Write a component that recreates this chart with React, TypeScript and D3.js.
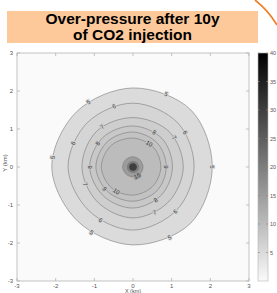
import * as d3 from "d3";

// contour levels (bar) and their radius (km) read at 8 headings: E, NE, N, NW, W, SW, S, SE
const levels = [5, 6, 7, 8, 9, 10, 15, 20, 30];
const ringRadii = [
  [2.05, 2.12, 2.08, 2.06, 2.1, 2.02, 2.05, 2.1],
  [1.58, 1.64, 1.68, 1.66, 1.68, 1.62, 1.66, 1.6],
  [1.3, 1.32, 1.3, 1.33, 1.32, 1.3, 1.34, 1.3],
  [1.02, 1.06, 1.08, 1.1, 1.12, 1.08, 1.08, 1.04],
  [0.86, 0.89, 0.92, 0.94, 0.96, 0.92, 0.9, 0.88],
  [0.72, 0.74, 0.76, 0.8, 0.82, 0.78, 0.74, 0.72],
  [0.26, 0.26, 0.27, 0.27, 0.27, 0.26, 0.26, 0.26],
  [0.16, 0.16, 0.16, 0.16, 0.16, 0.16, 0.16, 0.16],
  [0.1, 0.1, 0.1, 0.1, 0.1, 0.1, 0.1, 0.1],
];
const headings = [0, 45, 90, 135, 180, 225, 270, 315];

// inline contour labels: level and heading (deg) where they sit
const labelLevels = [5, 5, 5, 5, 5, 5, 6, 6, 6, 6, 6, 7, 7, 7, 7, 8, 8, 8, 8, 9, 9, 10, 10, 15];
const labelAngles = [124, 66, 0, -63, 238, 173, 107, 158, 34, -47, 239, 127, 36, 200, -65, 146, 180, 59, -56, 218, 0, 56, 236, -65];

const xTicks = [-3, -2, -1, 0, 1, 2, 3];
const yTicks = [-3, -2, -1, 0, 1, 2, 3];
const cbTicks = [5, 10, 15, 20, 25, 30, 35, 40];

const W = 277;
const H = 293;
const FONT = "'Liberation Sans', Arial, sans-serif";

const x = d3.scaleLinear().domain([-3, 3]).range([17, 249]);
const y = d3.scaleLinear().domain([-3, 3]).range([281, 53]);
const cb = d3.scaleLinear().domain([0, 40]).range([281, 53]);
const gray = d3.scaleLinear<string>().domain([0, 40]).range(["#fafafa", "#000000"]);

function ringPoint(r: number, deg: number): [number, number] {
  const a = (deg * Math.PI) / 180;
  return [x(r * Math.cos(a)), y(r * Math.sin(a))];
}

function radiusAt(li: number, deg: number) {
  const d = ((deg % 360) + 360) % 360;
  const i = Math.floor(d / 45) % 8;
  const t = (d - i * 45) / 45;
  const r = ringRadii[li];
  return r[i] * (1 - t) + r[(i + 1) % 8] * t;
}

const ringLine = d3.line<[number, number]>().curve(d3.curveCatmullRomClosed.alpha(0.5));

export default function App() {
  return (
    <svg
      width={W}
      height={H}
      style={{ position: "absolute", left: 0, top: 0, background: "#fff" }}
      fontFamily={FONT}
    >
      <defs>
        <linearGradient id="cbgrad" x1="0" y1="1" x2="0" y2="0">
          <stop offset="0%" stopColor={gray(0)} />
          <stop offset="100%" stopColor={gray(40)} />
        </linearGradient>
      </defs>

      {/* title banner */}
      <rect x={7} y={11} width={251} height={32} fill="#fdc99b" />
      <text x={132.5} y={24} textAnchor="middle" fontSize={15.5} fontWeight="bold" fill="#000">
        Over-pressure after 10y
      </text>
      <text x={132.5} y={40} textAnchor="middle" fontSize={15.5} fontWeight="bold" fill="#000">
        of CO2 injection
      </text>
      <path d="M255,0 Q268,10 277,25" fill="none" stroke="#ee7d22" strokeWidth={1.6} />

      {/* plot background */}
      <rect x={17} y={53} width={232} height={228} fill={gray(0)} />

      {/* filled contours */}
      {levels.map((lv, li) => {
        const pts = headings.map((h, k) => ringPoint(ringRadii[li][k], h));
        return (
          <path
            key={lv}
            d={ringLine(pts) ?? ""}
            fill={gray(lv)}
            stroke={li < 7 ? "#7a7a7a" : "none"}
            strokeWidth={0.6}
          />
        );
      })}

      {/* contour labels */}
      {labelLevels.map((lv, i) => {
        const li = levels.indexOf(lv);
        const deg = labelAngles[i];
        const [px, py] = ringPoint(radiusAt(li, deg), deg);
        let rot = 90 - deg;
        while (rot > 90) rot -= 180;
        while (rot < -90) rot += 180;
        return (
          <text
            key={i}
            x={px}
            y={py}
            dy="0.35em"
            textAnchor="middle"
            fontSize={6}
            fill="#333"
            stroke={gray(lv)}
            strokeWidth={2}
            paintOrder="stroke"
            transform={`rotate(${rot},${px},${py})`}
          >
            {lv}
          </text>
        );
      })}

      {/* axes box and ticks */}
      <rect x={17} y={53} width={232} height={228} fill="none" stroke="#b4b4b4" strokeWidth={0.8} />
      {xTicks.map((t) => (
        <g key={`xt${t}`} stroke="#b4b4b4" strokeWidth={0.8}>
          <line x1={x(t)} x2={x(t)} y1={281} y2={278} />
          <line x1={x(t)} x2={x(t)} y1={53} y2={56} />
        </g>
      ))}
      {yTicks.map((t) => (
        <g key={`yt${t}`} stroke="#b4b4b4" strokeWidth={0.8}>
          <line x1={17} x2={20} y1={y(t)} y2={y(t)} />
          <line x1={249} x2={246} y1={y(t)} y2={y(t)} />
        </g>
      ))}
      {xTicks.map((t) => (
        <text key={`xl${t}`} x={x(t)} y={287.5} textAnchor="middle" fontSize={6} fill="#555">
          {t}
        </text>
      ))}
      {yTicks.map((t) => (
        <text key={`yl${t}`} x={13} y={y(t) + 2} textAnchor="end" fontSize={6} fill="#555">
          {t}
        </text>
      ))}
      <text x={133} y={292.5} textAnchor="middle" fontSize={5.5} fill="#555">
        X (km)
      </text>
      <text x={0} y={0} textAnchor="middle" fontSize={6} fill="#555" transform="translate(7,163) rotate(-90)">
        Y (km)
      </text>

      {/* colorbar */}
      <rect x={258} y={53} width={10} height={228} fill="url(#cbgrad)" stroke="#b4b4b4" strokeWidth={0.6} />
      {cbTicks.map((t) => (
        <g key={`cb${t}`}>
          <line x1={258} x2={260} y1={cb(t)} y2={cb(t)} stroke="#888" strokeWidth={0.6} />
          <line x1={268} x2={266} y1={cb(t)} y2={cb(t)} stroke="#888" strokeWidth={0.6} />
          <text x={270} y={cb(t) + 2} fontSize={5.5} fill="#555">
            {t}
          </text>
        </g>
      ))}
    </svg>
  );
}
